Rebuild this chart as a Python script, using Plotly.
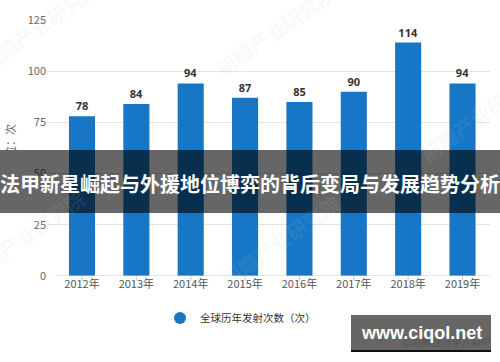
import plotly.graph_objects as go

years = ["2012年", "2013年", "2014年", "2015年", "2016年", "2017年", "2018年", "2019年"]
launches = [78, 84, 94, 87, 85, 90, 114, 94]
y_ticks = [0, 25, 50, 75, 100, 125]
series_name = "全球历年发射次数（次）"
banner_text = "法甲新星崛起与外援地位博弈的背后变局与发展趋势分析"

W, H = 500, 362
ML, MR, MT, MB = 47, 10, 20, 86
PW, PH = W - ML - MR, H - MT - MB

def px(x):
    return (x - ML) / PW

def py(y):
    return (H - MB - y) / PH

fig = go.Figure()
fig.add_trace(go.Bar(
    x=list(range(len(years))), y=launches, name=series_name,
    marker=dict(color="#1777C6", line=dict(width=0)),
    width=0.48,
    text=[str(v) for v in launches], textposition="outside",
    textfont=dict(family="Noto Sans, sans-serif", size=11, color="#333333", weight="bold"),
    cliponaxis=False, showlegend=False,
))
# legend marker
fig.add_trace(go.Scatter(
    x=[None], y=[None], mode="markers", name=series_name,
    marker=dict(symbol="circle", size=11, color="#1777C6"),
))

fig.update_layout(
    width=W, height=H,
    margin=dict(l=ML, r=MR, t=MT, b=MB),
    paper_bgcolor="white", plot_bgcolor="white",
    font=dict(family="Noto Sans CJK SC, sans-serif", size=11, color="#555555"),
    xaxis=dict(
        range=[-0.644, 7.506], tickmode="array",
        tickvals=list(range(len(years))), ticktext=years,
        showgrid=False, showline=False, zeroline=False,
        ticks="", tickfont=dict(size=11, color="#555555"),
    ),
    yaxis=dict(
        range=[0, 125], tickmode="array", tickvals=y_ticks,
        showgrid=True, gridcolor="#E3E3E3", gridwidth=1,
        zeroline=False, showline=False, ticks="",
        tickfont=dict(size=11, color="#666666"),
    ),
    legend=dict(
        orientation="h", x=px(160), xanchor="left", y=py(318), yanchor="middle",
        font=dict(size=10.5, color="#333333"), itemsizing="constant", itemwidth=30,
        bgcolor="rgba(0,0,0,0)",
    ),
    bargap=0.5,
)

shapes = []
# baseline axis
shapes.append(dict(type="line", xref="x", yref="y", x0=-0.5, x1=7.5, y0=0, y1=0,
                   line=dict(color="#CCCCCC", width=1)))
# category ticks
for i in range(len(years)):
    shapes.append(dict(type="line", xref="x", yref="paper", x0=i, x1=i,
                       y0=0, y1=py(H - MB + 5), line=dict(color="#CCCCCC", width=1)))
# banner
shapes.append(dict(type="rect", xref="paper", yref="paper",
                   x0=px(0), x1=px(W), y0=py(213), y1=py(150),
                   fillcolor="rgba(0,0,0,0.6)", line=dict(width=0), layer="above"))
# logo box
shapes.append(dict(type="rect", xref="paper", yref="paper",
                   x0=px(351), x1=px(491), y0=py(352), y1=py(315),
                   fillcolor="#666666", line=dict(width=0), layer="above"))
shapes.append(dict(type="line", xref="paper", yref="paper",
                   x0=px(351), x1=px(491), y0=py(351), y1=py(351),
                   line=dict(color="#111111", width=2), layer="above"))
fig.update_layout(shapes=shapes)

annotations = []
# faint watermarks
for (wx, wy) in [(40, 25), (275, 30), (480, 115), (25, 235), (280, 240)]:
    annotations.append(dict(x=px(wx), y=py(wy), xref="paper", yref="paper",
                            xanchor="center", yanchor="middle",
                            text="前瞻产业研究院", showarrow=False, textangle=-35,
                            font=dict(size=20, color="rgba(190,200,210,0.10)", weight="bold")))
# y-axis unit title
annotations.append(dict(x=px(10), y=py(146), xref="paper", yref="paper",
                        xanchor="center", yanchor="middle",
                        text="单位：次", showarrow=False, textangle=-90,
                        font=dict(size=11, color="#666666")))
# banner text
annotations.append(dict(x=0.5 * (px(0) + px(W)), y=py(183), xref="paper", yref="paper",
                        xanchor="center", yanchor="middle",
                        text=banner_text, showarrow=False,
                        font=dict(family="Noto Sans CJK SC", size=20, color="white", weight="bold")))
# faint app text on logo
annotations.append(dict(x=px(492), y=py(341), xref="paper", yref="paper",
                        xanchor="right", yanchor="middle",
                        text="@前瞻经济学人APP", showarrow=False,
                        font=dict(size=10, color="#555555")))
# logo text
annotations.append(dict(x=px(421), y=py(333), xref="paper", yref="paper",
                        xanchor="center", yanchor="middle",
                        text="www.ciqol.net", showarrow=False,
                        font=dict(family="Liberation Sans, Arial", size=18, color="white", weight="bold")))
fig.update_layout(annotations=annotations)

fig.write_html("out.html", config={"displayModeBar": False},
               post_script="document.body.style.margin='0px';document.body.style.padding='0px';")
